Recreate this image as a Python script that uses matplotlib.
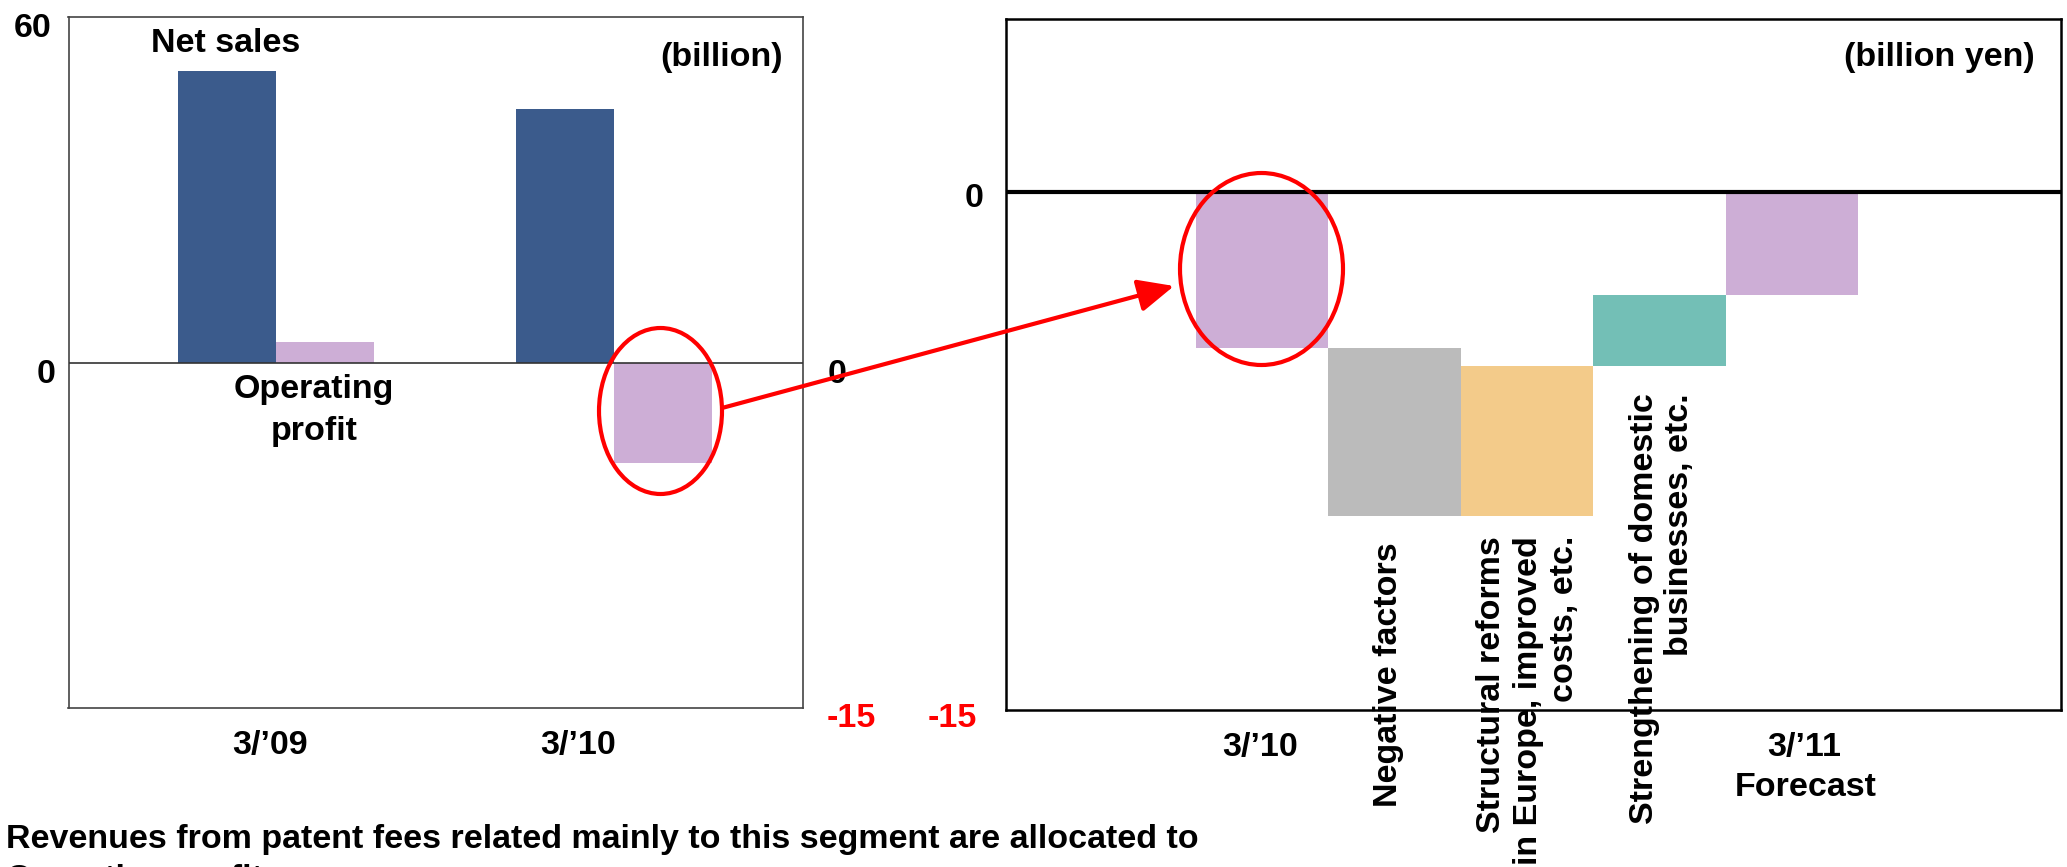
import matplotlib
matplotlib.use("Agg")
import matplotlib.pyplot as plt
from matplotlib.patches import Ellipse, FancyArrowPatch
import numpy as np

# ---------------- data ----------------
left_periods = ["3/\u201909", "3/\u201910"]
net_sales = [50.7, 44.0]
operating_profit = [3.65, -17.4]

wf_labels = ["3/\u201910",
             "Negative factors",
             "Structural reforms\nin Europe, improved\ncosts, etc.",
             "Strengthening of domestic\nbusinesses, etc.",
             "3/\u201911\nForecast"]
wf_low = [-4.53, -9.39, -9.39, -5.05, -3.0]
wf_high = [0.0, -4.53, -5.05, -3.0, 0.0]
wf_colors = ["#CDAED6", "#BBBBBB", "#F3CB8A", "#73BFB6", "#CDAED6"]

# ---------------- style ----------------
plt.rcParams["font.family"] = ["Liberation Sans", "DejaVu Sans"]
plt.rcParams["font.weight"] = "bold"
plt.rcParams["font.size"] = 24.5

W, H, DPI = 2067, 867, 100
fig = plt.figure(figsize=(W / DPI, H / DPI), dpi=DPI)
fig.patch.set_facecolor("white")


def fx(x):
    return x / W


def fy(y):
    return 1 - y / H


def ftext(x, y, s, **kw):
    kw.setdefault("ha", "center")
    kw.setdefault("va", "baseline")
    kw.setdefault("fontweight", "bold")
    return fig.text(fx(x), fy(y), s, **kw)


# ---------------- left chart ----------------
ax1 = fig.add_axes([fx(68.5), fy(708), (803 - 68.5) / W, (708 - 17.3) / H])
ax1.set_xlim(-0.614, 1.559)
ax1.set_ylim(-60, 60)
xpos = np.arange(len(left_periods))
bw = 0.29
ax1.bar(xpos - bw / 2, net_sales, bw, color="#3B5B8C", zorder=2)
ax1.bar(xpos + bw / 2, operating_profit, bw, color="#CDAED6", zorder=2)
ax1.axhline(0, color="#333333", lw=1.2, zorder=3)
ax1.set_xticks([])
ax1.set_yticks([])
for sp in ax1.spines.values():
    sp.set_color("#444444")
    sp.set_linewidth(1.2)

# ---------------- right chart ----------------
ax2 = fig.add_axes([fx(1006), fy(710), (2061 - 1006) / W, (710 - 19) / H])
ax2.set_xlim(-1.932, 6.03)
ax2.set_ylim(-15, 5)
heights = np.array(wf_high) - np.array(wf_low)
ax2.bar(np.arange(len(wf_labels)), heights, bottom=wf_low, width=1.0,
        color=wf_colors, zorder=2)
ax2.axhline(0, color="black", lw=3, zorder=3)
ax2.set_xticks([])
ax2.set_yticks([])
for sp in ax2.spines.values():
    sp.set_color("black")
    sp.set_linewidth(1.8)

# ---------------- texts ----------------
ftext(32.5, 37, "60")
ftext(46.5, 383, "0")
ftext(226, 52, "Net sales")
ftext(783, 66, "(billion)", ha="right")
ftext(314, 398, "Operating")
ftext(314, 440, "profit")
ftext(270, 754, left_periods[0])
ftext(578, 754, left_periods[1])

ftext(837, 383, "0")
ftext(851, 727, "-15", color="red")
ftext(952, 727, "-15", color="red")
ftext(974, 207, "0")

ftext(2035, 66, "(billion yen)", ha="right")
ftext(1260, 756, wf_labels[0])
f_lines = wf_labels[4].split("\n")
ftext(1804, 756, f_lines[0])
ftext(1806, 796, f_lines[1])

ftext(1389, 542, wf_labels[1], rotation=90, va="top")
ftext(1528, 536, wf_labels[2], rotation=90, va="top",
      multialignment="right", linespacing=1.25)
ftext(1662, 393, wf_labels[3], rotation=90, va="top",
      multialignment="right", linespacing=1.2)

ftext(6, 848, "Revenues from patent fees related mainly to this segment are allocated to",
      ha="left")
ftext(6, 888, "Operating profit.", ha="left")

# ---------------- annotations ----------------
fig.add_artist(Ellipse((fx(660.5), fy(411)), 123 / W, 166 / H,
                       transform=fig.transFigure, fill=False,
                       ec="red", lw=3, zorder=10))
fig.add_artist(Ellipse((fx(1261.5), fy(269)), 163 / W, 192 / H,
                       transform=fig.transFigure, fill=False,
                       ec="red", lw=3, zorder=10))
fig.add_artist(FancyArrowPatch((fx(722), fy(408)), (fx(1174), fy(286)),
                               transform=fig.transFigure,
                               arrowstyle="-|>,head_length=1.1,head_width=0.5",
                               mutation_scale=20, color="red", lw=3,
                               shrinkA=0, shrinkB=0, zorder=10))

fig.savefig("out.png", dpi=DPI)
